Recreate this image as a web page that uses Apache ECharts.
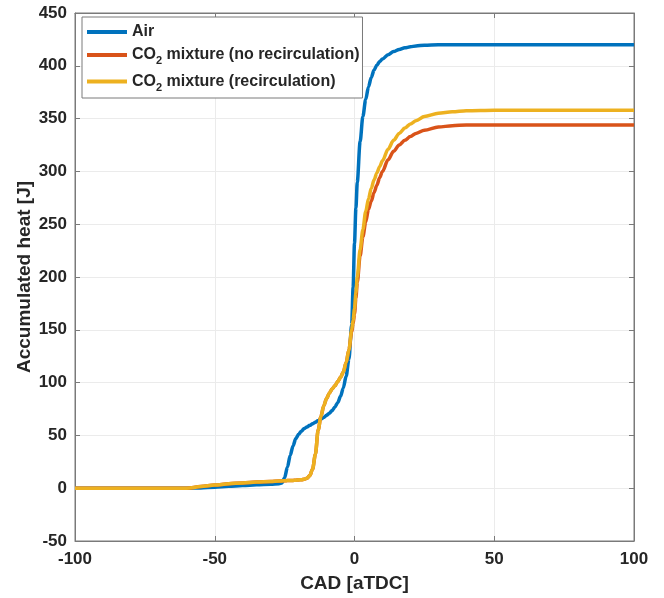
<!DOCTYPE html>
<html>
<head>
    <meta charset="utf-8">
    <title>Accumulated heat</title>
    <script src="https://cdn.jsdelivr.net/npm/echarts@6/dist/echarts.min.js"></script>
    <style>
        html, body { margin: 0; padding: 0; background: #fff; }
    </style>
</head>
<body>
<div id="main" style="width: 664px;height:598px;"></div>
<script>
    // crank angle (x) and accumulated heat values
    var cad = [-100, -80, -60, -55, -50, -45, -40, -35, -30, -27, -26, -25, -24, -23, -22, -21, -20, -19, -18, -17,
        -16, -15, -14, -13, -12, -11, -10, -9, -8, -7, -6, -5, -4, -3, -2, -1, -0.5, 0, 0.5, 1, 2, 3, 4, 5, 6, 7, 8, 9, 10,
        12, 14, 16, 18, 20, 22, 25, 30, 35, 40, 50, 60, 80, 100];

    var air = [0, 0, 0, 0.3, 1, 1.8, 2.5, 3.2, 3.8, 4.3, 5, 10, 20, 31, 40, 47, 51, 54, 56.5, 58,
        59.5, 61, 62.5, 64, 65.5, 67, 69, 71, 73.5, 77, 81, 87, 95, 106, 122, 155, 190, 232, 265, 290, 328, 352, 368, 380, 389, 396, 400.5, 404, 406.5,
        410.5, 413.5, 415.5, 417, 418, 418.8, 419.5, 420, 420, 420, 420, 420, 420, 420];

    var co2NoRecirc = [0, 0, 0, 1.5, 3, 4.2, 5, 5.8, 6.4, 6.8, 6.9, 7, 7.2, 7.3, 7.4, 7.6, 7.8, 8, 8.5, 9.5,
        12, 18, 32, 55, 68, 78, 85, 90, 94, 97, 101, 105, 110, 119, 131, 148, 156, 165, 180, 195, 220, 238, 252, 264, 272, 280, 287, 294, 300,
        311, 319, 325, 329.5, 333, 336, 339, 342, 343.3, 344, 344, 344, 344, 344];

    var co2Recirc = [0, 0, 0, 1.5, 3, 4.2, 5, 5.8, 6.4, 6.8, 6.9, 7, 7.2, 7.3, 7.4, 7.6, 7.8, 8, 8.5, 9.5,
        12, 18, 32, 55, 68, 78, 85, 90, 94, 97, 101, 105, 110, 119, 131, 150, 159, 170, 185, 200, 226, 245, 262, 274, 284, 292, 298.5, 304.5, 310,
        321, 329.5, 336, 341, 345, 348, 352, 355, 356.5, 357.5, 358, 358, 358, 358];

    var seriesNames = ['Air', 'CO2 mixture (no recirculation)', 'CO2 mixture (recirculation)'];
    var colors = ['#0072BD', '#D95319', '#EDB120'];

    function pairs(ys) {
        return cad.map(function (x, i) { return [x, ys[i]]; });
    }

    var font = 'Liberation Sans';
    var labelStyle = { color: '#262626', fontFamily: font, fontWeight: 'bold', fontSize: 17 };
    var nameStyle = { color: '#262626', fontFamily: font, fontWeight: 'bold', fontSize: 19 };
    var frameColor = '#7a7a7a';
    var frameLine = { show: true, onZero: false, lineStyle: { color: frameColor } };
    var innerTick = { show: true, inside: true, length: 5, lineStyle: { color: frameColor } };

    var myChart = echarts.init(document.getElementById('main'));
    myChart.setOption({
        animation: false,
        color: colors,
        grid: {
            left: 75, right: 30, top: 13, bottom: 57,
            show: true, borderColor: frameColor, borderWidth: 1
        },
        legend: {
            orient: 'vertical',
            left: 82, top: 17,
            icon: 'rect',
            itemWidth: 40, itemHeight: 4,
            itemGap: 7,
            padding: [7, 3, 5, 5],
            backgroundColor: '#fff',
            borderColor: frameColor, borderWidth: 1,
            data: seriesNames,
            formatter: function (name) {
                return name.replace('CO2', 'CO{sub|2}');
            },
            textStyle: {
                color: '#262626', fontFamily: font, fontWeight: 'bold', fontSize: 16,
                rich: {
                    sub: { fontSize: 11, fontWeight: 'bold', fontFamily: font, color: '#262626', padding: [12, 0, 0, 0] }
                }
            }
        },
        xAxis: [{
            type: 'value', min: -100, max: 100, interval: 50,
            name: 'CAD [aTDC]', nameLocation: 'middle', nameGap: 33,
            nameMoveOverlap: false,
            nameTextStyle: nameStyle,
            axisLine: frameLine,
            axisTick: innerTick,
            axisLabel: Object.assign({ margin: 10 }, labelStyle),
            splitLine: { show: true, lineStyle: { color: '#ebebeb' } }
        }, {
            type: 'value', min: -100, max: 100, interval: 50, position: 'top',
            axisLine: frameLine,
            axisTick: innerTick,
            axisLabel: { show: false },
            splitLine: { show: false }
        }],
        yAxis: [{
            type: 'value', min: -50, max: 450, interval: 50,
            name: 'Accumulated heat [J]', nameLocation: 'middle', nameGap: 41,
            nameMoveOverlap: false,
            nameTextStyle: nameStyle,
            axisLine: frameLine,
            axisTick: innerTick,
            axisLabel: Object.assign({ margin: 8 }, labelStyle),
            splitLine: { show: true, lineStyle: { color: '#ebebeb' } }
        }, {
            type: 'value', min: -50, max: 450, interval: 50, position: 'right',
            axisLine: frameLine,
            axisTick: innerTick,
            axisLabel: { show: false },
            splitLine: { show: false }
        }],
        series: [air, co2NoRecirc, co2Recirc].map(function (ys, i) {
            return {
                name: seriesNames[i],
                type: 'line',
                data: pairs(ys),
                symbol: 'none',
                smooth: 0.3,
                smoothMonotone: 'x',
                lineStyle: { width: 3.5, color: colors[i] },
                z: 2 + i
            };
        })
    });
</script>
</body>
</html>
